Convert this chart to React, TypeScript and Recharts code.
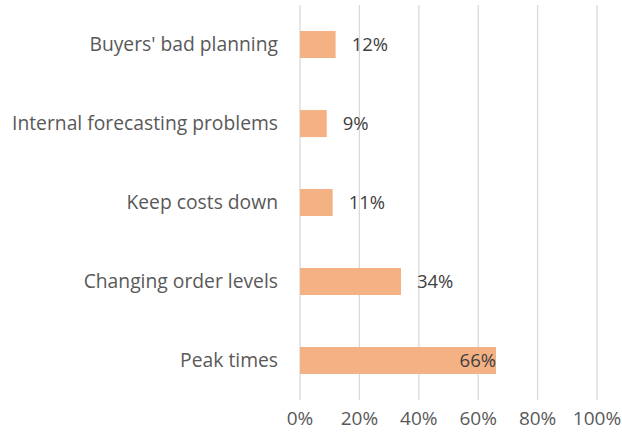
import { BarChart, Bar, XAxis, YAxis, CartesianGrid, LabelList } from 'recharts';

const categories = [
  "Buyers' bad planning",
  'Internal forecasting problems',
  'Keep costs down',
  'Changing order levels',
  'Peak times',
];
const shares = [0.12, 0.09, 0.11, 0.34, 0.66];
const xTicks = [0, 0.2, 0.4, 0.6, 0.8, 1];

const data = categories.map((name, i) => ({ name, value: shares[i] }));

const FONT = "'Open Sans', sans-serif";
const TEXT = '#595959';

const pct = (v: number) => `${Math.round(v * 100)}%`;

// labels sit past the bar end, except the long bar where they go inside
const renderLabel = (props: any) => {
  const { x, y, width, height, value } = props;
  const inside = value >= 0.5;
  return (
    <text
      x={inside ? x + width : x + width + 16}
      y={y + height / 2}
      dy="0.35em"
      textAnchor={inside ? 'end' : 'start'}
      fill="#404040"
      fontSize={18.5}
      fontFamily={FONT}
    >
      {pct(value)}
    </text>
  );
};

export default function App() {
  return (
    <div style={{ position: 'absolute', left: 0, top: 0, background: '#fff' }}>
      <BarChart
        width={622}
        height={432}
        data={data}
        layout="vertical"
        margin={{ top: 5, right: 25, bottom: 0, left: 0 }}
        barCategoryGap="33%"
      >
        <CartesianGrid horizontal={false} stroke="#D9D9D9" strokeWidth={1.3} />
        <XAxis
          type="number"
          domain={[0, 1]}
          ticks={xTicks}
          tickFormatter={pct}
          axisLine={false}
          tickLine={false}
          tickSize={0}
          tickMargin={12}
          height={32}
          interval={0}
          tick={{ fill: TEXT, fontSize: 19, fontFamily: FONT }}
        />
        <YAxis
          type="category"
          dataKey="name"
          width={300}
          axisLine={false}
          tickLine={false}
          tickSize={0}
          tickMargin={22}
          interval={0}
          tick={{ fill: TEXT, fontSize: 19.3, fontFamily: FONT }}
        />
        <Bar dataKey="value" fill="#F4B183" isAnimationActive={false}>
          <LabelList dataKey="value" content={renderLabel} />
        </Bar>
      </BarChart>
    </div>
  );
}
